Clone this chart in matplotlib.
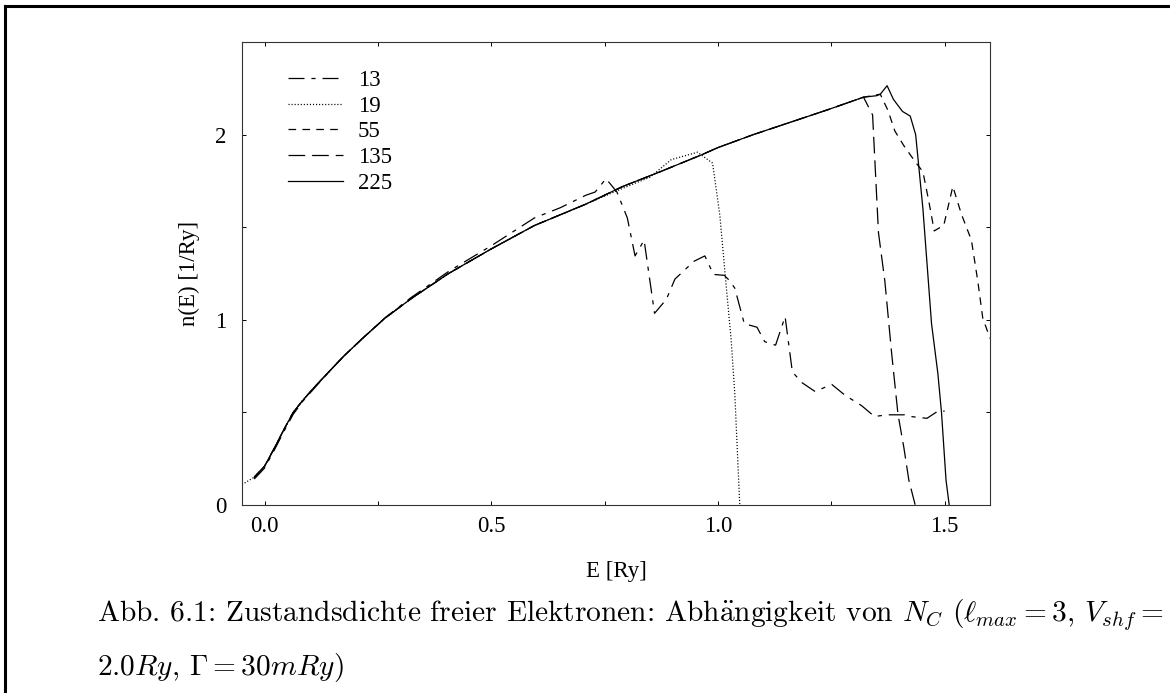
import matplotlib
matplotlib.use('Agg')
import matplotlib.pyplot as plt
from matplotlib.lines import Line2D

plt.rcParams['font.family'] = 'Liberation Serif'
plt.rcParams['mathtext.fontset'] = 'cm'
plt.rcParams['lines.scale_dashes'] = False

# common part of the curves
e_base = [-0.023, 0.0, 0.022, 0.043, 0.063, 0.084, 0.113, 0.142, 0.175, 0.216, 0.265,
          0.323, 0.405, 0.5, 0.595, 0.708, 0.79, 0.873, 0.963, 1.0, 1.078, 1.16, 1.243, 1.321]
n_base = [0.15, 0.21, 0.31, 0.41, 0.50, 0.565, 0.645, 0.72, 0.805, 0.90, 1.008,
          1.114, 1.249, 1.383, 1.509, 1.624, 1.72, 1.80, 1.89, 1.93, 2.0, 2.067, 2.135, 2.202]

# N_C = 13
e_13 = [-0.023, 0.0, 0.022, 0.043, 0.063, 0.084, 0.113, 0.142, 0.175, 0.216, 0.265, 0.323,
        0.405, 0.5, 0.595, 0.652, 0.708, 0.729, 0.753, 0.777, 0.80, 0.817, 0.837, 0.86, 0.886,
        0.905, 0.947, 0.971, 0.990, 1.014, 1.026, 1.037, 1.058, 1.086, 1.103, 1.127, 1.148,
        1.164, 1.185, 1.214, 1.251, 1.280, 1.317, 1.345, 1.374, 1.411, 1.424, 1.461, 1.485, 1.50]
n_13 = [0.14, 0.20, 0.30, 0.40, 0.49, 0.56, 0.64, 0.72, 0.805, 0.90, 1.01, 1.12,
        1.26, 1.40, 1.55, 1.605, 1.672, 1.69, 1.762, 1.69, 1.55, 1.345, 1.43, 1.035, 1.11,
        1.22, 1.316, 1.345, 1.245, 1.24, 1.21, 1.171, 0.979, 0.96, 0.882, 0.863, 1.017,
        0.719, 0.661, 0.613, 0.651, 0.593, 0.536, 0.478, 0.487, 0.487, 0.478, 0.468, 0.507, 0.507]

# N_C = 19
e_19 = [-0.05] + e_base[:16] + [0.79, 0.85, 0.897, 0.955, 0.988, 1.004, 1.016, 1.029, 1.037, 1.048]
n_19 = [0.11] + n_base[:16] + [1.71, 1.77, 1.865, 1.905, 1.846, 1.566, 1.239, 0.892, 0.603, 0.0]

# N_C = 55
e_55 = e_base + [1.358, 1.375, 1.39, 1.41, 1.436, 1.452, 1.465, 1.477, 1.498, 1.518,
                 1.537, 1.559, 1.573, 1.584, 1.60]
n_55 = n_base + [2.218, 2.13, 2.02, 1.94, 1.85, 1.80, 1.64, 1.48, 1.51, 1.72,
                 1.57, 1.43, 1.21, 1.01, 0.90]

# N_C = 135
e_135 = e_base + [1.341, 1.354, 1.368, 1.383, 1.397, 1.41, 1.421, 1.435]
n_135 = n_base + [2.106, 1.47, 1.21, 0.82, 0.49, 0.31, 0.134, 0.0]

# N_C = 225
e_225 = e_base + [1.35, 1.358, 1.373, 1.387, 1.407, 1.424, 1.436, 1.452, 1.471, 1.485,
                  1.493, 1.503, 1.51]
n_225 = n_base + [2.21, 2.218, 2.264, 2.19, 2.125, 2.10, 2.0, 1.6, 0.98, 0.71,
                  0.5, 0.134, 0.0]

W, H = 1170, 693
fig = plt.figure(figsize=(W / 100, H / 100), dpi=100)
ax = fig.add_axes([242 / W, 1 - 505 / H, 748 / W, 463 / H])

lw = 0.9
ax.plot(e_13, n_13, color='k', lw=lw, ls=(0, (11.5, 5, 3, 5)), label='13')
ax.plot(e_19, n_19, color='k', lw=lw, ls=(0, (0.8, 1.4)), label='19')
ax.plot(e_55, n_55, color='k', lw=lw, ls=(0, (5.5, 4.5)), label='55')
ax.plot(e_135, n_135, color='k', lw=lw, ls=(0, (12, 5)), label='135')
ax.plot(e_225, n_225, color='k', lw=lw, ls='-', label='225')

ax.set_xlim(-0.05, 1.6)
ax.set_ylim(0, 2.5)
ax.set_xticks([0.0, 0.5, 1.0, 1.5])
ax.set_xticklabels(['0.0', '0.5', '1.0', '1.5'])
ax.set_xticks([0.25, 0.75, 1.25], minor=True)
ax.set_yticks([0, 1, 2])
ax.set_yticks([0.5, 1.5], minor=True)
fs = 16.5
ax.tick_params(which='both', direction='in', top=True, right=True, length=3.2,
               width=0.7, labelsize=fs)
ax.tick_params(axis='x', pad=8)
ax.tick_params(axis='y', pad=11)
for s in ax.spines.values():
    s.set_linewidth(0.8)
    s.set_color('#333333')

ax.set_xlabel('E [Ry]', fontsize=fs)
ax.set_ylabel('n(E) [1/Ry]', fontsize=fs)
ax.xaxis.set_label_coords(0.5, -0.12)
ax.yaxis.set_label_coords(-0.056, 0.5)

ax.legend(loc='upper left', bbox_to_anchor=(0.0615, 0.9395), frameon=False,
          fontsize=fs, handlelength=2.4, handletextpad=0.65, labelspacing=0.2,
          borderpad=0, borderaxespad=0)

# caption, first line stretched to the text width
line1 = (r'Abb. 6.1: Zustandsdichte freier Elektronen: Abh$\ddot{\mathrm{a}}$ngigkeit von '
         r'$N_C$ ($\ell_{max} = 3$, $V_{shf} =$')
line2 = r'2.0$Ry$, $\Gamma = 30mRy$)'
x0, x1 = 97, 1164
t1 = fig.text(x0 / W, 1 - 615 / H, line1, family='cmr10', fontsize=18, va='center', ha='left')
t2 = fig.text(x0 / W, 1 - 668 / H, line2, family='cmr10', fontsize=18, va='center', ha='left')
r = fig.canvas.get_renderer()
w = t1.get_window_extent(r).width
cfs = 18 * (x1 - x0) / w
t1.set_fontsize(cfs)
t2.set_fontsize(cfs)

# page frame (left and top edges)
fig.add_artist(Line2D([5 / W, 5 / W], [0, 1 - 6 / H], color='k', lw=2.2))
fig.add_artist(Line2D([5 / W, 1], [1 - 6 / H, 1 - 6 / H], color='k', lw=2.2))

fig.savefig('out.png', dpi=100)
